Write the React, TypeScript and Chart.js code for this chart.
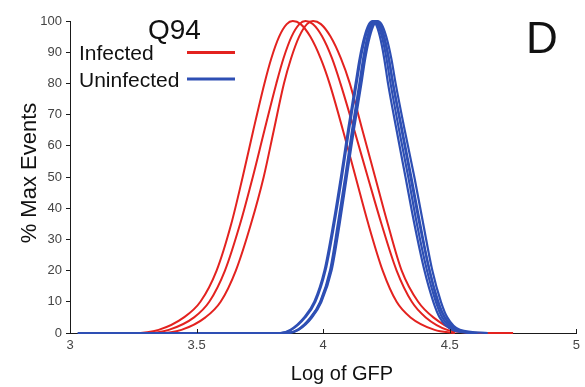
import React, { useEffect, useRef } from "react";
import { Chart, registerables } from "chart.js";

Chart.register(...registerables);

const FONT = "'Liberation Sans', Arial, sans-serif";
const RED = "#e3221f";
const BLUE = "#2e4fb4";

// Axis ticks
const xTickValues = [3, 3.5, 4, 4.5, 5];
const yTickValues = [0, 10, 20, 30, 40, 50, 60, 70, 80, 90, 100];

// Infected replicates: log GFP (x) and % of max events (y)
const infectedAX = [3.17, 3.25, 3.35, 3.45, 3.515, 3.579, 3.637, 3.682, 3.724, 3.768, 3.795, 3.826, 3.856, 3.88, 3.911, 3.949, 3.99, 4.025, 4.078, 4.128, 4.178, 4.235, 4.29, 4.345, 4.44, 4.52];
const infectedAY = [0, 0, 1, 5, 10, 20, 35, 50, 65, 80, 88, 95, 99, 100, 99, 95, 88, 80, 65, 50, 35, 20, 10, 5, 1, 0];

const infectedBX = [3.22, 3.3, 3.39, 3.49, 3.55, 3.612, 3.672, 3.722, 3.768, 3.815, 3.843, 3.875, 3.906, 3.93, 3.959, 3.996, 4.035, 4.068, 4.123, 4.176, 4.23, 4.29, 4.35, 4.405, 4.49, 4.58];
const infectedBY = [0, 0, 1, 5, 10, 20, 35, 50, 65, 80, 88, 95, 99, 100, 99, 95, 88, 80, 65, 50, 35, 20, 10, 5, 1, 0];

const infectedCX = [3.26, 3.35, 3.44, 3.535, 3.595, 3.655, 3.715, 3.765, 3.805, 3.845, 3.873, 3.905, 3.936, 3.96, 3.991, 4.029, 4.07, 4.105, 4.155, 4.205, 4.255, 4.31, 4.375, 4.435, 4.52, 4.62, 4.75];
const infectedCY = [0, 0, 1, 5, 10, 20, 35, 50, 65, 80, 88, 95, 99, 100, 99, 95, 88, 80, 65, 50, 35, 20, 10, 5, 1, 0, 0];

// Uninfected replicates
const uninfectedAX = [3.03, 3.83, 3.87, 3.925, 3.965, 4.005, 4.04, 4.07, 4.098, 4.128, 4.144, 4.163, 4.181, 4.195, 4.208, 4.224, 4.241, 4.256, 4.29, 4.325, 4.36, 4.4, 4.435, 4.46, 4.51, 4.58];
const uninfectedAY = [0, 0, 1, 5, 10, 20, 35, 50, 65, 80, 88, 95, 99, 100, 99, 95, 88, 80, 65, 50, 35, 20, 10, 5, 1, 0];

const uninfectedBX = [3.5, 3.86, 3.9, 3.953, 3.99, 4.03, 4.062, 4.09, 4.118, 4.148, 4.163, 4.18, 4.197, 4.21, 4.224, 4.241, 4.259, 4.275, 4.31, 4.345, 4.38, 4.42, 4.452, 4.48, 4.53, 4.6];
const uninfectedBY = [0, 0, 1, 5, 10, 20, 35, 50, 65, 80, 88, 95, 99, 100, 99, 95, 88, 80, 65, 50, 35, 20, 10, 5, 1, 0];

const uninfectedCX = [3.6, 3.834, 3.874, 3.929, 3.969, 4.009, 4.044, 4.074, 4.102, 4.132, 4.148, 4.167, 4.186, 4.2, 4.214, 4.232, 4.25, 4.266, 4.3, 4.336, 4.37, 4.41, 4.445, 4.47, 4.52, 4.59];
const uninfectedCY = [0, 0, 1, 5, 10, 20, 35, 50, 65, 80, 88, 95, 99, 100, 99, 95, 88, 80, 65, 50, 35, 20, 10, 5, 1, 0];

const uninfectedDX = [3.7, 3.863, 3.903, 3.956, 3.993, 4.033, 4.065, 4.093, 4.121, 4.151, 4.166, 4.184, 4.201, 4.215, 4.23, 4.249, 4.269, 4.286, 4.322, 4.36, 4.395, 4.431, 4.465, 4.49, 4.54, 4.65];
const uninfectedDY = [0, 0, 1, 5, 10, 20, 35, 50, 65, 80, 88, 95, 99, 100, 99, 95, 88, 80, 65, 50, 35, 20, 10, 5, 1, 0];

const uninfectedEX = [3.8, 3.858, 3.898, 3.95, 3.988, 4.027, 4.058, 4.087, 4.114, 4.143, 4.158, 4.175, 4.192, 4.205, 4.22, 4.239, 4.259, 4.276, 4.312, 4.348, 4.383, 4.42, 4.455, 4.48, 4.53, 4.61];
const uninfectedEY = [0, 0, 1, 5, 10, 20, 35, 50, 65, 80, 88, 95, 99, 100, 99, 95, 88, 80, 65, 50, 35, 20, 10, 5, 1, 0];

const legendLabels = ["Infected", "Uninfected"];

function curve(xs: number[], ys: number[], color: string, width: number, order: number) {
  return {
    data: xs.map((x, i) => ({ x, y: ys[i] })),
    borderColor: color,
    borderWidth: width,
    pointRadius: 0,
    fill: false,
    cubicInterpolationMode: "monotone" as const,
    clip: false as any,
    order,
  };
}

// Panel texts, legend and inward x tick marks
const decorations = {
  id: "decorations",
  afterDraw(chart: any) {
    const { ctx, scales } = chart;
    const xs = scales.x;
    ctx.save();
    ctx.strokeStyle = "#1a1a1a";
    ctx.lineWidth = 1;
    for (const v of xTickValues) {
      const px = Math.round(xs.getPixelForValue(v)) + 0.5;
      ctx.beginPath();
      ctx.moveTo(px, xs.top);
      ctx.lineTo(px, xs.top - 4);
      ctx.stroke();
    }

    ctx.fillStyle = "#111";
    ctx.textAlign = "left";
    ctx.textBaseline = "alphabetic";
    ctx.font = `28px ${FONT}`;
    ctx.fillText("Q94", 148, 39);
    ctx.font = `44px ${FONT}`;
    ctx.fillText("D", 526, 53);

    ctx.font = `21px ${FONT}`;
    ctx.fillText(legendLabels[0], 79, 59.5);
    ctx.fillText(legendLabels[1], 79, 87);
    ctx.lineWidth = 3;
    ctx.strokeStyle = RED;
    ctx.beginPath();
    ctx.moveTo(187, 52.5);
    ctx.lineTo(235, 52.5);
    ctx.stroke();
    ctx.strokeStyle = BLUE;
    ctx.beginPath();
    ctx.moveTo(187, 79);
    ctx.lineTo(235, 79);
    ctx.stroke();

    ctx.font = `20px ${FONT}`;
    ctx.textAlign = "center";
    ctx.fillText("Log of GFP", 342, 380);

    ctx.save();
    ctx.translate(36, 173);
    ctx.rotate(-Math.PI / 2);
    ctx.font = `22px ${FONT}`;
    ctx.textAlign = "center";
    ctx.fillText("% Max Events", 0, 0);
    ctx.restore();
    ctx.restore();
  },
};

export default function App() {
  const ref = useRef<HTMLCanvasElement>(null);

  useEffect(() => {
    if (!ref.current) return;
    const chart = new Chart(ref.current, {
      type: "line",
      data: {
        datasets: [
          curve(infectedAX, infectedAY, RED, 2, 1),
          curve(infectedBX, infectedBY, RED, 2, 1),
          curve(infectedCX, infectedCY, RED, 2, 1),
          curve(uninfectedAX, uninfectedAY, BLUE, 2.2, 0),
          curve(uninfectedBX, uninfectedBY, BLUE, 2.2, 0),
          curve(uninfectedCX, uninfectedCY, BLUE, 2.2, 0),
          curve(uninfectedDX, uninfectedDY, BLUE, 2.2, 0),
          curve(uninfectedEX, uninfectedEY, BLUE, 2.2, 0),
        ] as any,
      },
      options: {
        animation: false,
        responsive: false,
        devicePixelRatio: 1,
        layout: { padding: { top: 21, right: 5, left: 0, bottom: 0 } },
        plugins: {
          legend: { display: false },
          tooltip: { enabled: false },
          title: { display: false },
        },
        scales: {
          x: {
            type: "linear",
            min: 3,
            max: 5,
            afterBuildTicks: (s: any) => {
              s.ticks = xTickValues.map((v) => ({ value: v }));
            },
            afterFit: (s: any) => {
              s.height = 54;
            },
            grid: { display: true, drawOnChartArea: false, drawTicks: false },
            border: { display: true, color: "#1a1a1a", width: 1 },
            ticks: {
              padding: 5,
              color: "#444",
              font: { family: FONT, size: 13 },
              maxRotation: 0,
              autoSkip: false,
              callback: (v: any) => String(v),
            },
          },
          y: {
            type: "linear",
            min: 0,
            max: 100,
            afterBuildTicks: (s: any) => {
              s.ticks = yTickValues.map((v) => ({ value: v }));
            },
            afterFit: (s: any) => {
              s.width = 70;
            },
            grid: { drawOnChartArea: false, drawTicks: true, tickLength: 4, color: "#1a1a1a" },
            border: { display: true, color: "#1a1a1a", width: 1 },
            ticks: {
              padding: 4,
              color: "#444",
              font: { family: FONT, size: 13 },
              autoSkip: false,
              callback: (v: any) => String(v),
            },
          },
        },
      },
      plugins: [decorations],
    });
    return () => chart.destroy();
  }, []);

  return (
    <div style={{ position: "fixed", left: 0, top: 0, width: 585, height: 387, background: "#fff" }}>
      <canvas ref={ref} width={585} height={387} style={{ display: "block" }} />
    </div>
  );
}
